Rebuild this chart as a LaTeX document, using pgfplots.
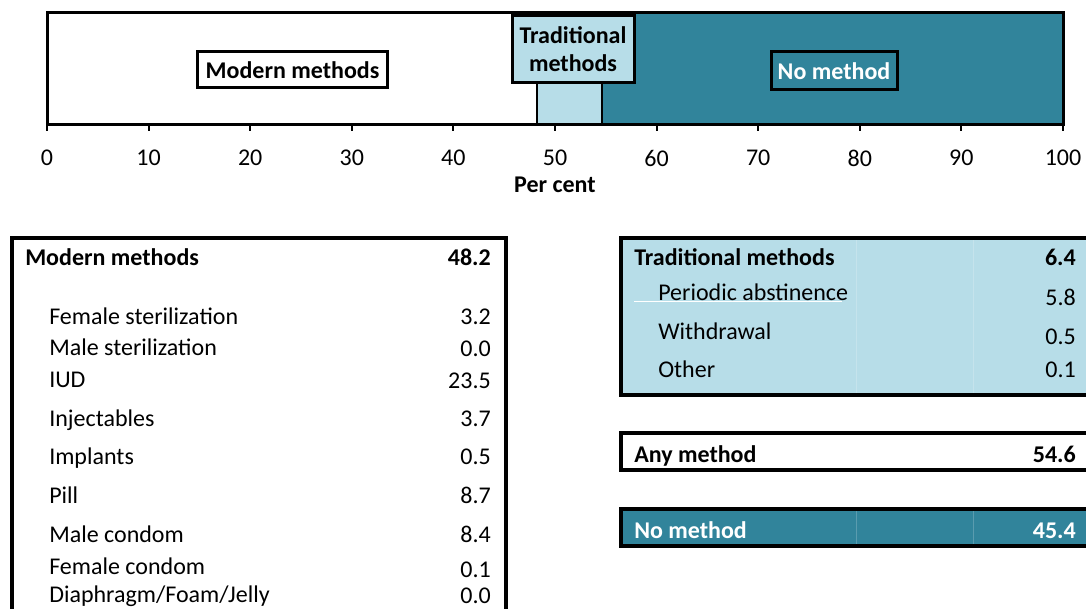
\documentclass[border=0pt]{standalone}
\usepackage{pgfplots}
\pgfplotsset{compat=1.18}
\usepackage{fontspec}
\setmainfont{Carlito}
\definecolor{nomc}{HTML}{31849B}
\definecolor{tradc}{HTML}{B7DDE8}
\newcommand{\tf}{\fontsize{18}{21}\selectfont}
\begin{document}
\begin{tikzpicture}
\begin{axis}[at={(35.25pt,-93.75pt)}, anchor=south west, scale only axis,
  width=762pt, height=84pt, xbar stacked, xmin=0, xmax=100, ymin=0, ymax=1,
  ytick=\empty, bar width=84pt, xtick={0,10,...,100}, xtick pos=bottom,
  tick align=outside, major tick length=4.5pt,
  every tick/.style={black, line width=1.5pt},
  axis line style={line width=2.25pt}, axis on top=true,
  tick label style={font=\tf}, xticklabel style={yshift=-11pt},
  /pgf/number format/assume math mode=true,
  xlabel={\textbf{Per cent}}, xlabel style={font=\tf, yshift=-0.5pt}, clip=false]
\addplot[fill=white, draw=black, line width=1.5pt] coordinates {(48.2,0.5)};
\addplot[fill=tradc, draw=black, line width=1.5pt] coordinates {(6.4,0.5)};
\addplot[fill=nomc, draw=black, line width=1.5pt] coordinates {(45.4,0.5)};
\end{axis}
\begin{scope}[x=0.75pt,y=-0.75pt]
% label boxes on bar
\node[draw, line width=2.25pt, fill=white, minimum width=143pt, minimum height=27pt, inner sep=0pt, font=\tf\bfseries] at (292.5,70) {Modern methods};
\node[draw, line width=2.25pt, fill=tradc, minimum width=91.5pt, minimum height=50pt, inner sep=0pt, align=center, font=\tf\bfseries] at (573,49) {Traditional\\methods};
\node[draw, line width=2.25pt, fill=nomc, text=white, minimum width=94.5pt, minimum height=28.5pt, inner sep=0pt, font=\tf\bfseries] at (834,71) {No method};
% left table
\draw[line width=2.5pt] (12,650) -- (12,238) -- (506,238) -- (506,650);
\node[anchor=base west, inner sep=0pt, font=\tf\bfseries] at (25,266) {Modern methods};
\node[anchor=base east, inner sep=0pt, font=\tf\bfseries] at (491,266) {48.2};
\foreach \lab/\val/\yl/\yv in {Female sterilization/3.2/325/325, Male sterilization/0.0/356/357, IUD/23.5/388/389, Injectables/3.7/427/427, Implants/0.5/465/465, Pill/8.7/504/504, Male condom/8.4/542/542, Female condom/0.1/575/578, {Diaphragm/Foam/Jelly}/0.0/603/604}{
  \node[anchor=base west, inner sep=0pt, font=\tf] at (49,\yl) {\lab};
  \node[anchor=base east, inner sep=0pt, font=\tf] at (491,\yv) {\val};
}
% traditional table
\fill[tradc] (621,238) rectangle (1100,395);
\draw[white, opacity=0.2, line width=0.6pt] (856,238) -- (856,395) (973,238) -- (973,395);
\draw[white, line width=0.8pt] (634,301.5) -- (842,301.5);
\draw[line width=2.5pt] (1100,238) -- (621,238) -- (621,395) -- (1100,395);
\node[anchor=base west, inner sep=0pt, font=\tf\bfseries] at (634,266) {Traditional methods};
\node[anchor=base east, inner sep=0pt, font=\tf\bfseries] at (1076,266) {6.4};
\node[anchor=base west, inner sep=0pt, font=\tf] at (658,301) {Periodic abstinence};
\node[anchor=base east, inner sep=0pt, font=\tf] at (1076,306) {5.8};
\node[anchor=base west, inner sep=0pt, font=\tf] at (658,340) {Withdrawal};
\node[anchor=base east, inner sep=0pt, font=\tf] at (1076,345) {0.5};
\node[anchor=base west, inner sep=0pt, font=\tf] at (658,378) {Other};
\node[anchor=base east, inner sep=0pt, font=\tf] at (1076,378) {0.1};
% any method
\draw[line width=2.5pt, fill=white] (1100,433) -- (621,433) -- (621,470) -- (1100,470);
\node[anchor=base west, inner sep=0pt, font=\tf\bfseries] at (634,463) {Any method};
\node[anchor=base east, inner sep=0pt, font=\tf\bfseries] at (1076,463) {54.6};
% no method
\fill[nomc] (621,509) rectangle (1100,546);
\draw[white, opacity=0.2, line width=0.6pt] (856,509) -- (856,546) (973,509) -- (973,546);
\draw[line width=2.5pt] (1100,509) -- (621,509) -- (621,546) -- (1100,546);
\node[anchor=base west, inner sep=0pt, font=\tf\bfseries, text=white] at (634,538) {No method};
\node[anchor=base east, inner sep=0pt, font=\tf\bfseries, text=white] at (1076,538) {45.4};
\end{scope}
\pgfresetboundingbox
\path[use as bounding box] (0pt,0pt) rectangle (814.5pt,-456.75pt);
\end{tikzpicture}
\end{document}
